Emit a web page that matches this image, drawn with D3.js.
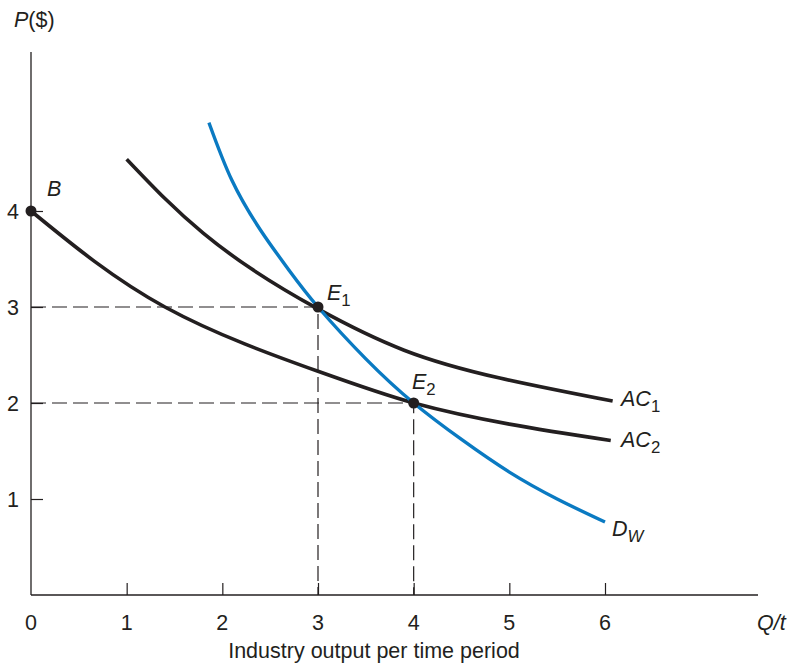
<!DOCTYPE html>
<html>
<head>
<meta charset="utf-8">
<script src="https://cdn.jsdelivr.net/npm/d3@7"></script>
<style>
  html, body { margin: 0; padding: 0; background: #fff; }
  svg text { font-family: "Liberation Sans", Arial, Helvetica, sans-serif; fill: #231f20; }
</style>
</head>
<body>
<svg id="chart" width="787" height="666"></svg>
<script>
// ---- data ----
const xTicks = [0, 1, 2, 3, 4, 5, 6];
const yTicks = [1, 2, 3, 4];
const ac1Q = [1.0, 1.4, 1.8, 2.3, 3.0, 3.9, 4.9, 6.08];
const ac1P = [4.54, 4.13, 3.77, 3.40, 2.98, 2.55, 2.26, 2.02];
const ac2Q = [0.0, 1.4, 3.0, 4.0, 5.0, 6.06];
const ac2P = [4.0, 3.0, 2.33, 2.0, 1.78, 1.61];
const dwQ = [1.86, 2.1, 2.4, 2.7, 3.0, 3.5, 4.0, 4.5, 5.0, 5.5, 6.0];
const dwP = [4.92, 4.32, 3.80, 3.38, 3.0, 2.46, 2.0, 1.62, 1.28, 1.0, 0.76];
const pointNames = ["B", "E1", "E2"];
const pointQ = [0, 3, 4];
const pointP = [4, 3, 2];

// ---- scales ----
const svg = d3.select("#chart");
const x = d3.scaleLinear().domain([0, 6]).range([31, 605]);
const y = d3.scaleLinear().domain([0, 4]).range([595, 211]);

const ink = "#231f20";

// axes lines
svg.append("line").attr("x1", x(0)).attr("x2", x(0)).attr("y1", 52).attr("y2", y(0))
  .attr("stroke", ink).attr("stroke-width", 1.3);
svg.append("line").attr("x1", x(0)).attr("x2", 758).attr("y1", y(0)).attr("y2", y(0))
  .attr("stroke", ink).attr("stroke-width", 1.3);

// x ticks (inward, upward)
const xAxis = d3.axisTop(x).tickValues(xTicks).tickSize(12).tickFormat("");
const gx = svg.append("g").attr("transform", `translate(0,${y(0)})`).call(xAxis);
gx.select(".domain").remove();
gx.selectAll("line").attr("stroke", ink).attr("stroke-width", 1.2);
gx.selectAll(".tick").filter(d => d === 0).remove();

// y ticks (inward, rightward)
const yAxis = d3.axisRight(y).tickValues(yTicks).tickSize(12).tickFormat("");
const gy = svg.append("g").attr("transform", `translate(${x(0)},0)`).call(yAxis);
gy.select(".domain").remove();
gy.selectAll("line").attr("stroke", ink).attr("stroke-width", 1.2);

const fs = 21.5;
// tick labels
svg.append("g").selectAll("text").data(xTicks).join("text")
  .attr("x", d => x(d)).attr("y", 630).attr("text-anchor", "middle")
  .attr("font-size", fs).text(d => d);
svg.append("g").selectAll("text").data(yTicks).join("text")
  .attr("x", 19).attr("y", d => y(d) + 7.5).attr("text-anchor", "end")
  .attr("font-size", fs).text(d => d);

// dashed guide lines
const dash = "15,6";
[[3, 3], [4, 2]].forEach(([q, p]) => {
  svg.append("path")
    .attr("d", `M${x(0)},${y(p)}H${x(q)}V${y(0)}`)
    .attr("fill", "none").attr("stroke", ink).attr("stroke-width", 1.2)
    .attr("stroke-dasharray", dash);
});

// curves
const line = d3.line().x(d => x(d[0])).y(d => y(d[1])).curve(d3.curveNatural);
const zip = (a, b) => a.map((v, i) => [v, b[i]]);
svg.append("path").attr("d", line(zip(ac1Q, ac1P)))
  .attr("fill", "none").attr("stroke", ink).attr("stroke-width", 3.6);
svg.append("path").attr("d", line(zip(ac2Q, ac2P)))
  .attr("fill", "none").attr("stroke", ink).attr("stroke-width", 3.6);
svg.append("path").attr("d", line(zip(dwQ, dwP)))
  .attr("fill", "none").attr("stroke", "#0a7ac2").attr("stroke-width", 3.4);

// points
svg.append("g").selectAll("circle").data(pointQ).join("circle")
  .attr("cx", d => x(d)).attr("cy", (d, i) => y(pointP[i])).attr("r", 5.5)
  .attr("fill", ink);

// labels
function label(px, py, main, sub, size, italicSub) {
  const t = svg.append("text").attr("x", px).attr("y", py).attr("font-size", size)
    .attr("font-style", "italic");
  t.append("tspan").text(main);
  if (sub) {
    t.append("tspan").attr("dy", 6).attr("font-size", size * 0.78)
      .attr("font-style", italicSub ? "italic" : "normal").text(sub);
  }
  return t;
}
label(47, 196, "B", null, fs);
label(327, 300, "E", "1", fs);
label(412, 389, "E", "2", fs);
label(621, 406, "AC", "1", fs);
label(621, 447, "AC", "2", fs);
label(612, 536, "D", "W", fs, true);

// axis titles
const pt = svg.append("text").attr("x", 14).attr("y", 27).attr("font-size", fs);
pt.append("tspan").attr("font-style", "italic").text("P");
pt.append("tspan").text("($)");
svg.append("text").attr("x", 757).attr("y", 630).attr("font-size", fs)
  .attr("font-style", "italic").text("Q/t");
svg.append("text").attr("x", 374).attr("y", 658).attr("text-anchor", "middle")
  .attr("font-size", fs).text("Industry output per time period");
</script>
</body>
</html>
